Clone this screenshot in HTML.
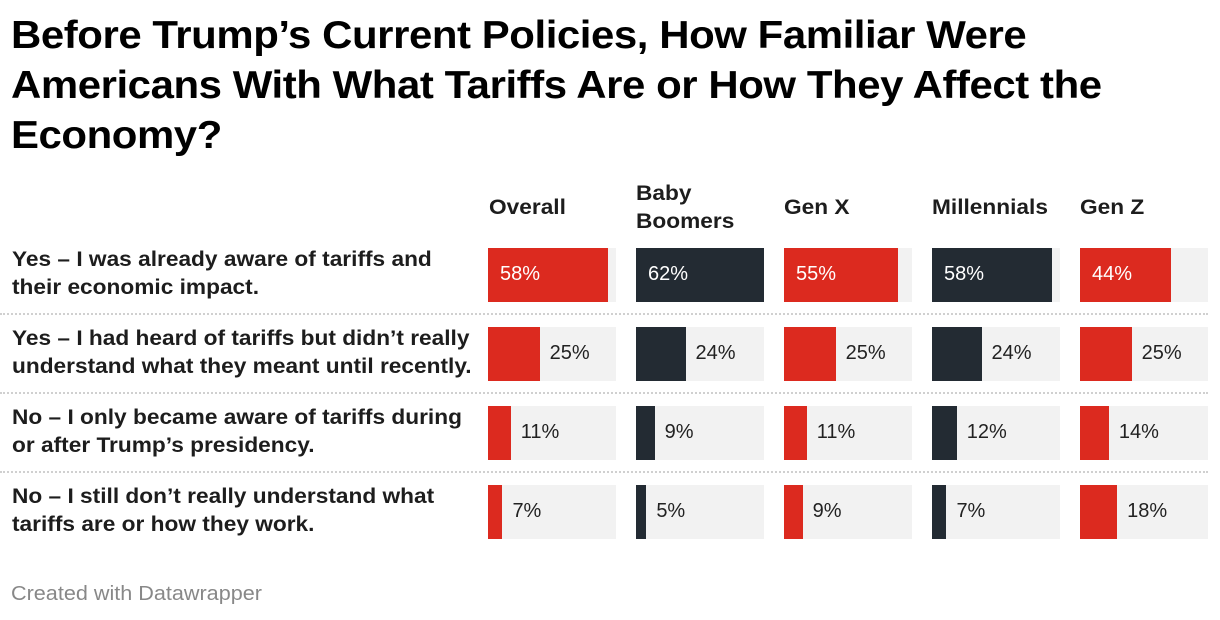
<!DOCTYPE html>
<html><head><meta charset="utf-8"><style>
body{margin:0;width:1220px;height:620px;background:#fff;font-family:"Liberation Sans",sans-serif;overflow:hidden;position:relative}
h1{position:absolute;left:11px;top:11px;margin:0;font-size:39px;line-height:50px;font-weight:bold;color:#000;letter-spacing:-0.4px;white-space:nowrap;transform:scaleX(1.075);transform-origin:0 0}
.hdr{position:absolute;font-size:21px;font-weight:bold;color:#1d1d1d;line-height:28px;white-space:nowrap;transform:scaleX(1.08);transform-origin:0 0}
.rl{position:absolute;left:12px;font-size:21px;font-weight:bold;color:#1d1d1d;line-height:28px;white-space:nowrap;transform:scaleX(1.08);transform-origin:0 0}
.foot{position:absolute;left:11px;top:583px;font-size:20px;color:#888;transform:scaleX(1.08);transform-origin:0 0}
</style></head><body>
<h1>Before Trump’s Current Policies, How Familiar Were<br>Americans With What Tariffs Are or How They Affect the<br>Economy?</h1>
<div id="chart"></div>
<div class="foot">Created with Datawrapper</div>
<script>
const groups=["Overall","Baby<br>Boomers","Gen X","Millennials","Gen Z"];
const rows=["Yes – I was already aware of tariffs and<br>their economic impact.","Yes – I had heard of tariffs but didn’t really<br>understand what they meant until recently.","No – I only became aware of tariffs during<br>or after Trump’s presidency.","No – I still don’t really understand what<br>tariffs are or how they work."];
const overall=[58,25,11,7];
const boomers=[62,24,9,5];
const genx=[55,25,11,9];
const millennials=[58,24,12,7];
const genz=[44,25,14,18];
const series=[overall,boomers,genx,millennials,genz];
const colors=["#dc2a1f","#232b33","#dc2a1f","#232b33","#dc2a1f"];
const maxV=62,colX0=488,colStep=148,colW=128,rowY0=248,rowStep=79,barH=54;
const x=v=>v/maxV*colW;
const c=document.getElementById('chart');
function mk(tag,css,html){const e=document.createElement(tag);e.style.cssText=css;if(html!==undefined)e.innerHTML=html;c.appendChild(e);return e;}
groups.forEach((g,i)=>{
  const two=g.includes('<br>');
  const e=mk('div',`left:${colX0+i*colStep+(i==0?1:0)}px;top:${two?180:194}px;`,g);
  e.className='hdr';
  
  
});
rows.forEach((r,j)=>{
  const y=rowY0+j*rowStep;
  const l=mk('div',`top:${y-2}px;`,r);l.className='rl';
  
  
  if(j>0){const s=mk('div',`position:absolute;left:0;top:${y-14}px;width:1208px;border-top:2px dotted #d0d0d0;`);
    
    }
  series.forEach((ser,i)=>{
    const cx=colX0+i*colStep,v=ser[j],w=x(v);
    const bg=mk('div',`position:absolute;left:${cx}px;top:${y}px;width:${colW}px;height:${barH}px;background:#f2f2f2;`);
    
    
    const b=mk('div',`position:absolute;left:${cx}px;top:${y}px;width:${w}px;height:${barH}px;background:${colors[i]};`);
    
    
    const inside=w>80;
    const t=mk('div',`position:absolute;left:${inside?cx+12:cx+w+10}px;top:${y+12}px;font-size:20px;line-height:28px;color:${inside?'#fff':'#222'};`,v+'%');
    
    
  });
});
</script>
</body></html>
